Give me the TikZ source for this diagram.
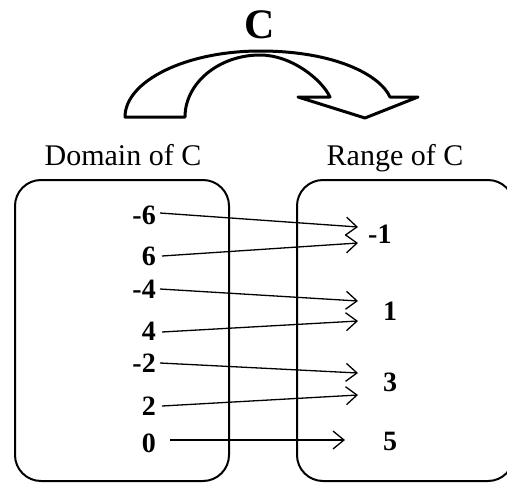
\documentclass[tikz,border=0pt]{standalone}
\usepackage{fontspec}
\setmainfont{Liberation Serif}
\usetikzlibrary{arrows.meta}
\begin{document}
\begin{tikzpicture}[x=1pt,y=-1pt,
  lbl/.style={inner sep=0pt,anchor=base,font=\fontsize{30}{34}\selectfont},
  num/.style={inner sep=0pt,font=\fontsize{28}{33}\selectfont\bfseries},
  setbox/.style={draw,line width=2pt,rounded corners=26pt},
  mapto/.style={line width=1.3pt,-{Straight Barb[length=11pt,width=18pt,line width=1.3pt]}},
  bigarrow/.style={draw,line width=3pt,line join=round}]
\useasboundingbox (0,0) rectangle (507,483);
\clip (0,0) rectangle (507,483);
% top curved arrow
\node[inner sep=0pt,anchor=base,font=\fontsize{42}{48}\selectfont\bfseries] (cl) at (260,38) {C};
\path[bigarrow] (125,117) .. controls (125,81) and (186,51) .. (260,51)
  .. controls (335,51) and (380,75) .. (390,97)
  -- (418,97) -- (365,118) -- (298,97) -- (330,97)
  .. controls (322,80) and (292,55) .. (260,55)
  .. controls (219,55) and (185,83) .. (185,117) -- cycle;
% set boxes
\node[lbl] (dl) at (123,165) {Domain of C};
\node[lbl] (rl) at (395,165) {Range of C};
\draw[setbox] (15,180) rectangle (229,481);
\draw[setbox] (297,180) rectangle (514,481);
% domain elements
\node[num,anchor=base east] (dm6) at (156,224) {-6};
\node[num,anchor=base east] (dp6) at (156,265) {6};
\node[num,anchor=base east] (dm4) at (156,298) {-4};
\node[num,anchor=base east] (dp4) at (156,340) {4};
\node[num,anchor=base east] (dm2) at (156,372) {-2};
\node[num,anchor=base east] (dp2) at (156,415) {2};
\node[num,anchor=base east] (d0) at (156,452) {0};
% range elements
\node[num,anchor=base west] (rm1) at (368,243) {-1};
\node[num,anchor=base] (r1) at (390,320) {1};
\node[num,anchor=base] (r3) at (390,391) {3};
\node[num,anchor=base] (r5) at (390,450) {5};
% arrow end points
\coordinate (e1) at (358,227);
\coordinate (e2) at (358,243);
\coordinate (e3) at (358,301);
\coordinate (e4) at (358,321);
\coordinate (e5) at (358,373);
\coordinate (e6) at (358,395);
\coordinate (e7) at (345,440);
\draw[mapto] ([xshift=4pt]dm6.east |- 0,213) -- (e1);
\draw[mapto] ([xshift=6pt]dp6.east |- 0,256) -- (e2);
\draw[mapto] ([xshift=4pt]dm4.east |- 0,289) -- (e3);
\draw[mapto] ([xshift=6pt]dp4.east |- 0,332) -- (e4);
\draw[mapto] ([xshift=4pt]dm2.east |- 0,363) -- (e5);
\draw[mapto] ([xshift=6pt]dp2.east |- 0,406) -- (e6);
\draw[mapto] ([xshift=14pt]d0.east |- 0,440) -- (e7);
\end{tikzpicture}
\end{document}
